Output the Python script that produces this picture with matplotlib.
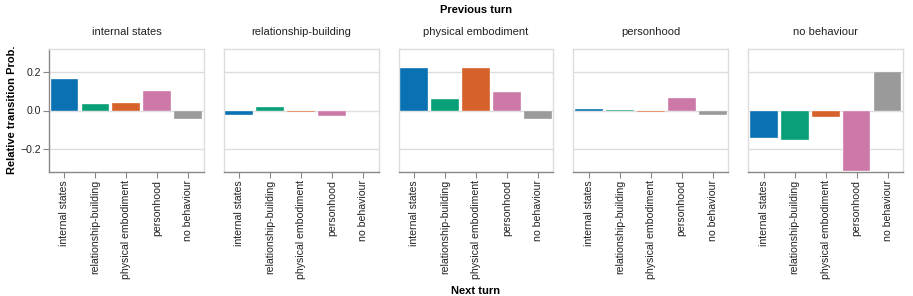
import matplotlib
matplotlib.use("Agg")
import matplotlib.pyplot as plt

plt.rcParams.update({
    "font.family": ["Liberation Sans", "DejaVu Sans"],
    "axes.unicode_minus": True,
})

PREV = ["internal states", "relationship-building", "physical embodiment",
        "personhood", "no behaviour"]
NEXT = ["internal states", "relationship-building", "physical embodiment",
        "personhood", "no behaviour"]

# relative transition prob, one list per previous-turn panel (order of NEXT)
v_internal = [0.166, 0.034, 0.041, 0.099, -0.044]
v_relation = [-0.026, 0.019, -0.008, -0.031, 0.0]
v_physical = [0.222, 0.060, 0.222, 0.097, -0.044]
v_person = [0.007, 0.003, -0.007, 0.067, -0.026]
v_nobeh = [-0.142, -0.154, -0.036, -0.315, 0.202]
VALUES = [v_internal, v_relation, v_physical, v_person, v_nobeh]

COLORS = ["#0a72b2", "#0aa077", "#d6612a", "#cd79a8", "#9a9a9a"]
YTICKS = [-0.2, 0.0, 0.2]

W, H = 913, 296
fig = plt.figure(figsize=(W / 100, H / 100), dpi=100)

left0, right_end, gap = 49, 903, 20
pw = (right_end - left0 - 4 * gap) / 5
top, bottom = 49, 172
DOMAIN = "#888888"
VIEW = "#dddddd"

for i, (title, vals) in enumerate(zip(PREV, VALUES)):
    x0 = left0 + i * (pw + gap)
    ax = fig.add_axes([x0 / W, 1 - bottom / H, pw / W, (bottom - top) / H])
    xs = list(range(len(NEXT)))
    ax.bar(xs, vals, width=0.9, color=COLORS, edgecolor="#ffffff", lw=0.25, zorder=3)
    ax.set_xlim(-0.5, len(NEXT) - 0.5)
    ax.set_ylim(-0.32, 0.32)
    ax.set_yticks(YTICKS)
    ax.yaxis.grid(True, color=VIEW, lw=1, zorder=0)
    ax.set_axisbelow(True)
    ax.set_xticks(xs)
    ax.set_xticklabels(NEXT, rotation=90, fontsize=7.6, color="#222222")
    ax.tick_params(axis="x", length=4, width=0.8, color=DOMAIN, pad=2)
    for s in ("top", "right", "left"):
        ax.spines[s].set_color(VIEW)
        ax.spines[s].set_linewidth(1)
    ax.spines["bottom"].set_color(DOMAIN)
    ax.spines["bottom"].set_linewidth(1)
    if i == 0:
        ax.spines["left"].set_color(DOMAIN)
        ax.set_yticklabels(["\u22120.2", "0.0", "0.2"], fontsize=7.6, color="#222222")
        ax.tick_params(axis="y", length=4, width=0.8, color=DOMAIN, pad=2)
    else:
        ax.tick_params(axis="y", length=0, labelleft=False)
    ax.set_title(title, fontsize=8, pad=10, color="#222222")

fig.text(12 / W, 1 - 110 / H, "Relative transition Prob.", rotation=90,
         ha="center", va="center", fontsize=8, fontweight="bold")
fig.text((left0 + right_end) / 2 / W, 1 - 10 / H, "Previous turn", ha="center",
         va="center", fontsize=8, fontweight="bold")
fig.text((left0 + right_end) / 2 / W, 1 - 291 / H, "Next turn", ha="center",
         va="center", fontsize=8, fontweight="bold")

fig.savefig("out.png", dpi=100, facecolor="white")
